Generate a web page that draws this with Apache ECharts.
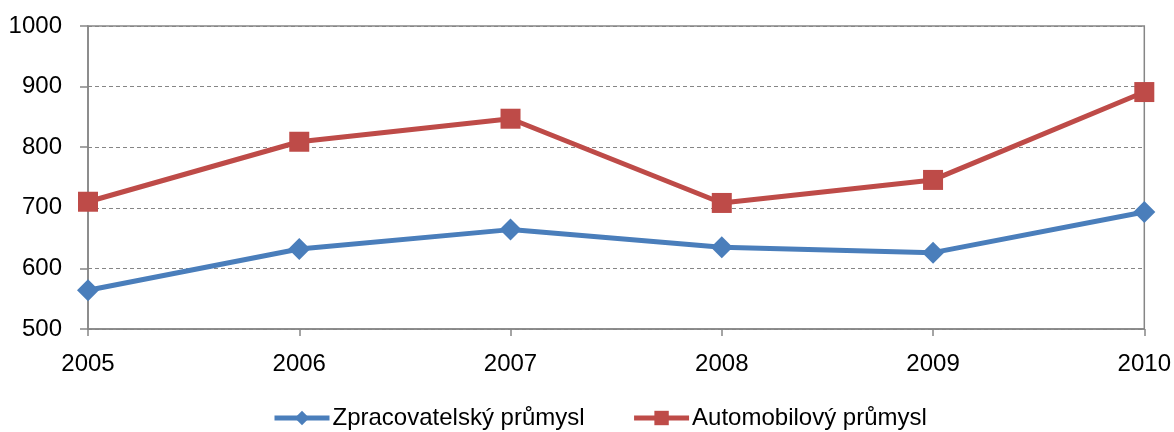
<!DOCTYPE html>
<html>
<head>
<meta charset="utf-8">
<script src="https://cdn.jsdelivr.net/npm/echarts@6/dist/echarts.min.js"></script>
<style>
  html, body { margin: 0; padding: 0; background: #fff; }
  #chart { width: 1174px; height: 432px; }
</style>
</head>
<body>
<div id="chart"></div>
<script>
  // roky
  const years = ['2005', '2006', '2007', '2008', '2009', '2010']
  // hodnoty
  const zpracovatelsky = [564, 632, 664, 635, 626, 693]
  const automobilovy = [710, 809, 847, 708, 746, 891]
  const seriesNames = ['Zpracovatelský průmysl', 'Automobilový průmysl']

  const axisGrey = '#868686'
  const font = '"Liberation Sans", Arial, sans-serif'

  const chart = echarts.init(document.getElementById('chart'))
  const option = {
    animation: false,
    textStyle: { fontFamily: font },
    grid: {
      left: 88,
      right: 28,
      top: 26,
      bottom: 103,
      show: true,
      borderColor: axisGrey,
      borderWidth: 1.5
    },
    legend: {
      top: 401,
      left: 267,
      itemWidth: 55,
      itemHeight: 18,
      itemGap: 47,
      lineStyle: { width: 5 },
      textStyle: { fontSize: 24, color: '#000', fontFamily: font, padding: [0, 0, 0, -2] },
      data: seriesNames
    },
    xAxis: {
      type: 'category',
      data: years,
      boundaryGap: false,
      axisLine: { lineStyle: { color: axisGrey, width: 1.5 } },
      axisTick: { show: true, length: 7, lineStyle: { color: axisGrey, width: 1.5 } },
      axisLabel: { color: '#000', fontSize: 24, margin: 23, fontFamily: font },
      splitLine: { show: false }
    },
    yAxis: {
      type: 'value',
      min: 500,
      max: 1000,
      interval: 100,
      axisLine: { show: true, lineStyle: { color: axisGrey, width: 1.5 } },
      axisTick: { show: true, length: 8, lineStyle: { color: axisGrey, width: 1.5 } },
      axisLabel: { color: '#000', fontSize: 24, margin: 26, fontFamily: font, formatter: v => String(v) },
      splitLine: { show: true, lineStyle: { color: axisGrey, width: 1, type: [4, 3] } }
    },
    series: [
      {
        name: seriesNames[0],
        type: 'line',
        data: zpracovatelsky,
        symbol: 'diamond',
        symbolSize: 22,
        lineStyle: { color: '#4a7ebb', width: 5 },
        itemStyle: { color: '#4a7ebb' }
      },
      {
        name: seriesNames[1],
        type: 'line',
        data: automobilovy,
        symbol: 'rect',
        symbolSize: 20,
        lineStyle: { color: '#be4b48', width: 5 },
        itemStyle: { color: '#be4b48' }
      }
    ]
  }
  chart.setOption(option)
</script>
</body>
</html>
